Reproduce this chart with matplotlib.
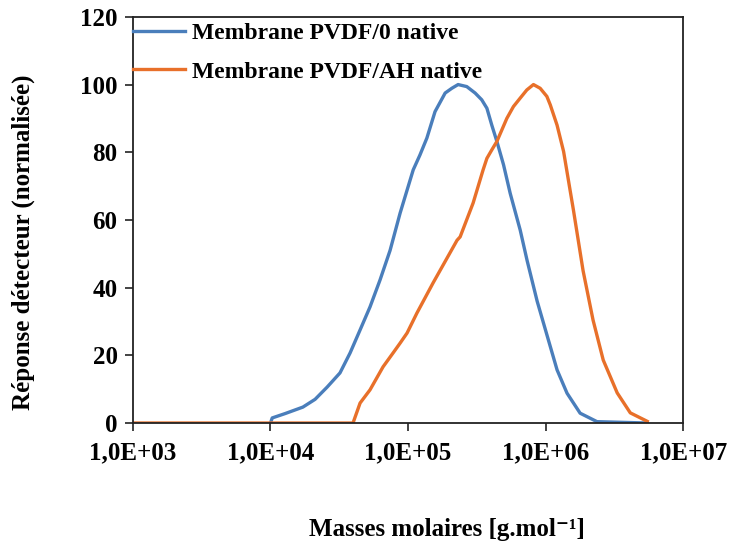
import math
import matplotlib
matplotlib.use("Agg")
import matplotlib.pyplot as plt
from matplotlib.ticker import FixedLocator, FuncFormatter

plt.rcParams['font.family'] = ['Liberation Serif', 'DejaVu Serif']
plt.rcParams['font.weight'] = 'bold'

# Membrane PVDF/0 native
mass_pvdf0 = [1.0e4, 1.03e4, 1.28e4, 1.72e4, 2.11e4, 2.58e4, 3.20e4, 3.79e4, 4.48e4,
              5.29e4, 6.26e4, 7.40e4, 8.75e4, 1.09e5, 1.22e5, 1.37e5, 1.57e5, 1.86e5,
              2.08e5, 2.31e5, 2.67e5, 3.07e5, 3.43e5, 3.74e5, 4.06e5, 4.42e5, 4.94e5,
              5.52e5, 6.53e5, 7.33e5, 8.67e5, 1.03e6, 1.21e6, 1.43e6, 1.78e6, 2.36e6,
              5.47e6]
resp_pvdf0 = [0.0, 1.5, 2.8, 4.7, 7.0, 10.6, 14.8, 20.7, 27.5,
              34.3, 42.3, 51.0, 62.0, 74.8, 79.2, 84.2, 92.0, 97.5,
              98.9, 100.0, 99.4, 97.5, 95.5, 93.0, 88.0, 83.2, 76.3,
              67.9, 57.0, 48.0, 36.0, 25.5, 15.7, 8.8, 2.9, 0.4,
              0.0]

# Membrane PVDF/AH native
mass_pvdfah = [1.0e3, 3.98e4, 4.48e4, 5.29e4, 6.58e4, 7.78e4, 8.75e4, 9.84e4, 1.16e5,
               1.52e5, 2.27e5, 2.39e5, 2.97e5, 3.51e5, 3.74e5, 4.06e5, 4.42e5, 5.22e5,
               5.83e5, 6.53e5, 7.29e5, 8.15e5, 9.12e5, 1.02e6, 1.08e6, 1.21e6, 1.35e6,
               1.51e6, 1.59e6, 1.87e6, 2.21e6, 2.62e6, 3.31e6, 4.12e6, 5.47e6]
resp_pvdfah = [0.0, 0.0, 5.9, 9.8, 16.6, 20.7, 23.6, 26.6, 32.5,
               41.4, 54.0, 55.0, 65.0, 74.8, 78.2, 80.7, 83.2, 90.0,
               93.5, 96.0, 98.4, 100.0, 98.9, 96.5, 94.0, 88.0, 80.2,
               68.4, 63.0, 45.0, 30.4, 18.6, 8.9, 3.0, 0.5]

labels = ['Membrane PVDF/0 native', 'Membrane PVDF/AH native']
x_ticks = [1e3, 1e4, 1e5, 1e6, 1e7]
y_ticks = [0, 20, 40, 60, 80, 100, 120]

fig = plt.figure(figsize=(7.3, 5.44), dpi=100)
ax = fig.add_axes([0.182, 0.2224, 0.754, 0.7466])

ax.plot(mass_pvdf0, resp_pvdf0, color='#4A7EBB', lw=2.4, label=labels[0],
        solid_joinstyle='round')
ax.plot(mass_pvdfah, resp_pvdfah, color='#E8702A', lw=2.4, label=labels[1],
        solid_joinstyle='round')

ax.set_xscale('log')
ax.set_xlim(1e3, 1e7)
ax.set_ylim(0, 120)
ax.xaxis.set_major_locator(FixedLocator(x_ticks))
ax.xaxis.set_minor_locator(FixedLocator([]))
ax.xaxis.set_major_formatter(FuncFormatter(lambda v, p: "1,0E+%02d" % round(math.log10(v))))
ax.set_yticks(y_ticks)

for s in ax.spines.values():
    s.set_linewidth(1.3)
    s.set_color('#222222')
ax.tick_params(axis='both', direction='out', length=6, width=1.2, labelsize=18, color='#222222')
ax.tick_params(axis='x', pad=7)
ax.tick_params(axis='y', pad=5)

ax.set_xlabel('Masses molaires [g.mol\u207b\u00b9]', fontsize=18, fontweight='bold')
ax.xaxis.set_label_coords(0.571, -0.234)
ax.set_ylabel('Réponse détecteur (normalisée)', fontsize=18, fontweight='bold')
ax.yaxis.set_label_coords(-0.178, 0.446)

leg = ax.legend(loc='upper left', bbox_to_anchor=(0.0, 0.985), frameon=False,
                fontsize=17, handlelength=2.2, handletextpad=0.3, labelspacing=0.7,
                borderpad=0, borderaxespad=0)

fig.savefig('out.png', dpi=100)
